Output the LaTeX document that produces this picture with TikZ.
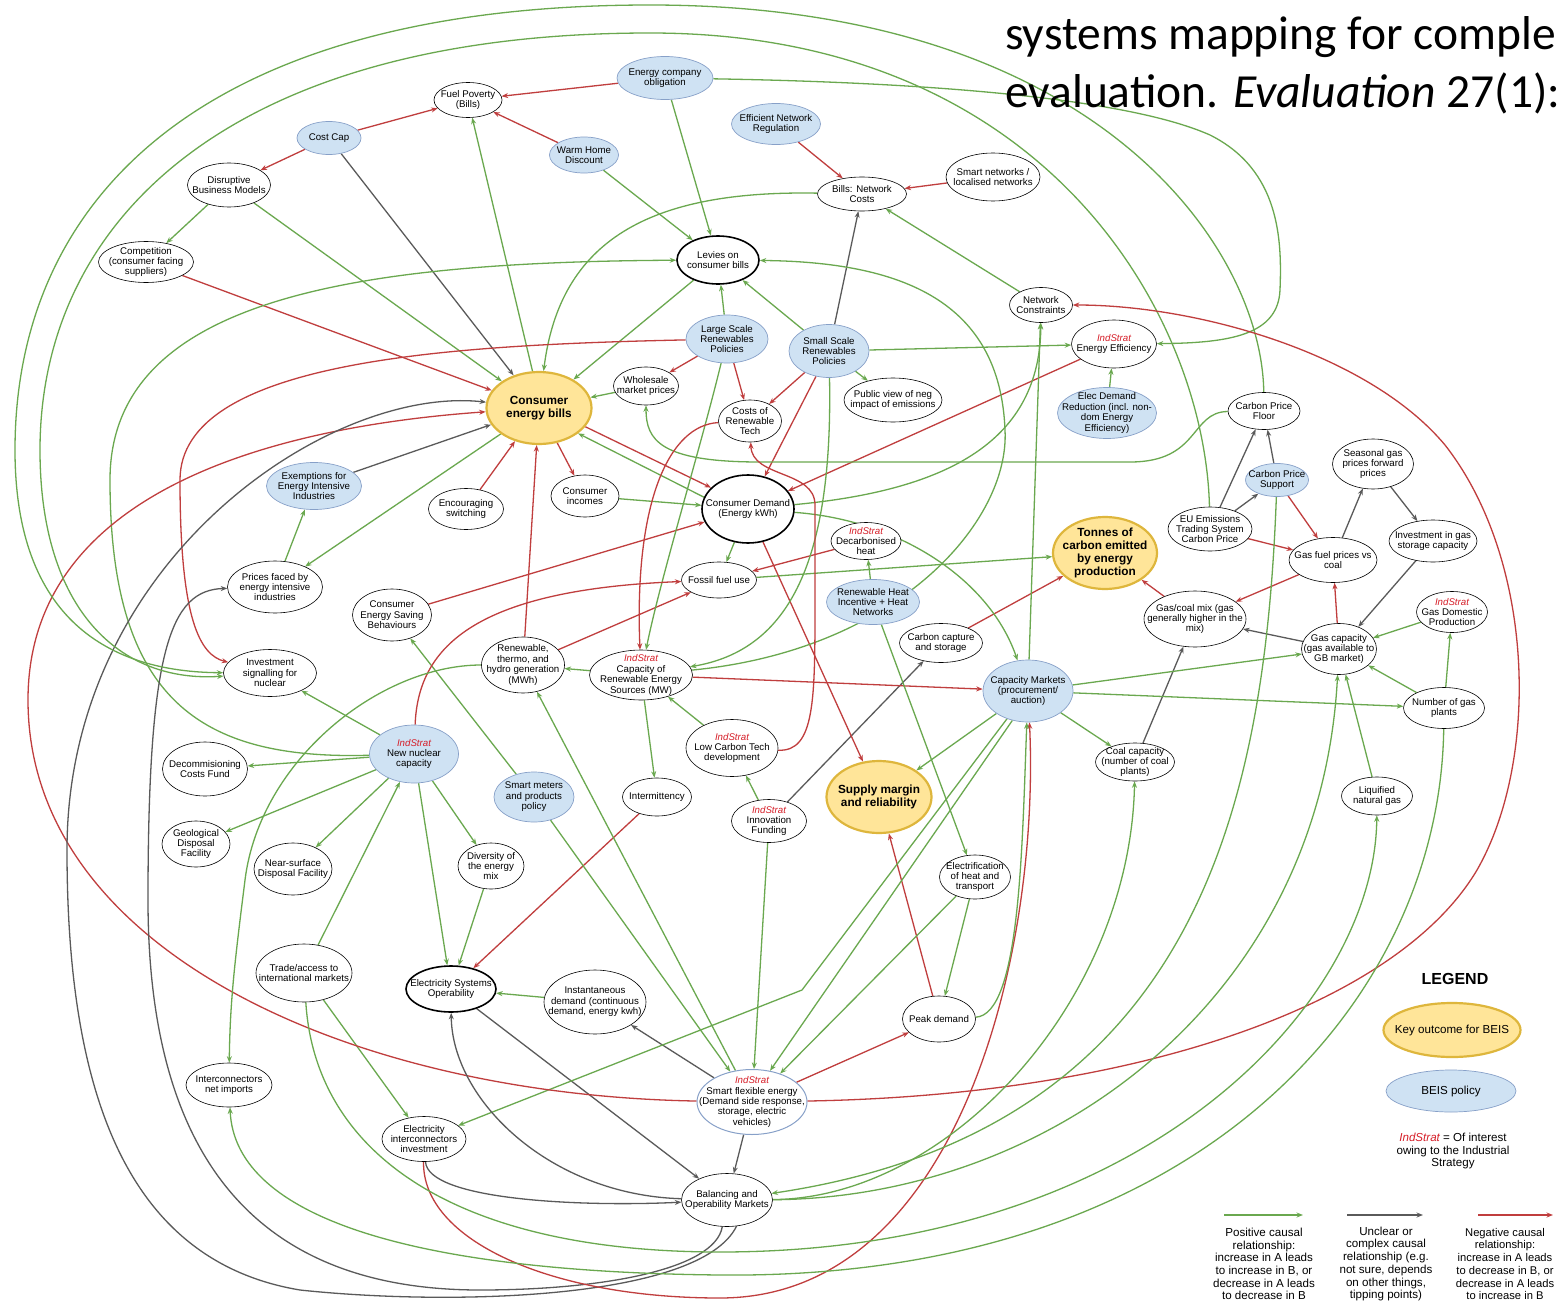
\documentclass[tikz,border=0pt]{standalone}
\usepackage{fontspec}
\setmainfont{Liberation Sans}
\newfontfamily\titlefont{Carlito}
\usetikzlibrary{shapes.geometric,arrows.meta}
\pgfdeclarelayer{bgwhite}
\pgfdeclarelayer{bg}
\pgfsetlayers{bgwhite,bg,main}
\definecolor{cgreen}{RGB}{106,168,79}
\definecolor{cgray}{RGB}{90,90,90}
\definecolor{cred}{RGB}{192,62,62}
\definecolor{cblue}{RGB}{207,226,243}
\definecolor{cblueb}{RGB}{135,160,200}
\definecolor{cyel}{RGB}{255,229,153}
\definecolor{cyelb}{RGB}{222,182,60}
\definecolor{indred}{RGB}{214,30,40}
\newcommand\nodefont{\fontsize{9.7}{10.4}\selectfont}
\newcommand\keyfont{\fontsize{11.8}{12.8}\selectfont\bfseries}
\newcommand\legfont{\fontsize{11.6}{12.7}\selectfont}
\newcommand\ind{{\color{indred}\itshape IndStrat}}
\newcommand\mknode[8]{\node[#6,minimum width=#4pt,minimum height=#5pt] (#1) at (#2,#3) {};\node[#7] (#1-t) at (#2,#3) {#8};}
\tikzset{
 shp/.style={ellipse,inner sep=0pt,fill=white},
 plainn/.style={shp,draw=black,line width=0.6pt},
 thk/.style={shp,draw=black,line width=1.6pt},
 bluen/.style={shp,draw=cblueb,fill=cblue,line width=0.7pt},
 sfest/.style={shp,draw=cblueb,fill=white,line width=1pt},
 keyn/.style={shp,draw=cyelb,fill=cyel,line width=2.2pt},
 txt/.style={align=center,inner sep=0pt,font=\nodefont},
 keytxt/.style={align=center,inner sep=0pt,font=\keyfont},
 legtxt/.style={align=center,inner sep=0pt,font=\legfont},
 edgest/.style={line width=1.3pt,-{Stealth[length=6.5pt,width=5pt]}},
 posl/.style={edgest,draw=cgreen},
 uncl/.style={edgest,draw=cgray},
 negl/.style={edgest,draw=cred},
}
\begin{document}
\begin{tikzpicture}[x=1pt,y=-1pt]
\begin{pgfonlayer}{bgwhite}
\fill[white] (0,0) rectangle (1559,1306);
\end{pgfonlayer}
\useasboundingbox (0,0) rectangle (1559,1306);
% title
\node[anchor=base west,inner sep=0pt,font=\titlefont\fontsize{47.5}{57}\selectfont] (t1) at (1005,50) {systems mapping for comple};
\node[anchor=base west,inner sep=0pt,font=\titlefont\fontsize{47.5}{57}\selectfont] (t2) at (1005,107) {evaluation. \textit{Evaluation} 27(1):};
% nodes
\mknode{fp}{468}{100}{68}{35}{plainn}{txt}{Fuel Poverty\\(Bills)}
\mknode{eco}{665}{78}{96}{43}{bluen}{txt}{Energy company\\obligation}
\mknode{cc}{329}{138}{64}{33}{bluen}{txt}{Cost Cap}
\mknode{whd}{584}{155}{69}{36}{bluen}{txt}{Warm Home\\Discount}
\mknode{enr}{776}{124}{89}{41}{bluen}{txt}{Efficient Network\\Regulation}
\mknode{dbm}{229}{185}{83}{44}{plainn}{txt}{Disruptive\\Business Models}
\mknode{sn}{993}{177}{94}{48}{plainn}{txt}{Smart networks /\\localised networks}
\mknode{bnc}{862}{194}{89}{34}{plainn}{txt}{Bills: Network\\Costs}
\mknode{comp}{146}{262}{95}{41}{plainn}{txt}{Competition\\(consumer facing\\suppliers)}
\mknode{lev}{718}{260}{82}{48}{thk}{txt}{Levies on\\consumer bills}
\mknode{nc}{1041}{305}{63}{35}{plainn}{txt}{Network\\Constraints}
\mknode{lsrp}{727}{339}{82}{48}{bluen}{txt}{Large Scale\\Renewables\\Policies}
\mknode{ssrp}{829}{351}{80}{53}{bluen}{txt}{Small Scale\\Renewables\\Policies}
\mknode{ee}{1114}{344}{85}{48}{plainn}{txt}{\ind\\Energy Efficiency}
\mknode{ceb}{539}{408}{105}{72}{keyn}{keytxt}{Consumer\\energy bills}
\mknode{wmp}{646}{386}{65}{38}{plainn}{txt}{Wholesale\\market prices}
\mknode{crt}{750}{421}{63}{42}{plainn}{txt}{Costs of\\Renewable\\Tech}
\mknode{pv}{893}{400}{98}{44}{plainn}{txt}{Public view of neg\\impact of emissions}
\mknode{edr}{1107}{413}{99}{51}{bluen}{txt}{Elec Demand\\Reduction (incl. non-\\dom Energy\\Efficiency)}
\mknode{cpf}{1264}{411}{72}{37}{plainn}{txt}{Carbon Price\\Floor}
\mknode{exe}{314}{486}{95}{47}{bluen}{txt}{Exemptions for\\Energy Intensive\\Industries}
\mknode{es}{466}{509}{75}{41}{plainn}{txt}{Encouraging\\switching}
\mknode{ci}{585}{496}{68}{42}{plainn}{txt}{Consumer\\incomes}
\mknode{cd}{748}{509}{92}{68}{thk}{txt}{Consumer Demand\\(Energy kWh)}
\mknode{sgp}{1373}{464}{81}{50}{plainn}{txt}{Seasonal gas\\prices forward\\prices}
\mknode{cps}{1277}{480}{63}{33}{bluen}{txt}{Carbon Price\\Support}
\mknode{ets}{1210}{529}{84}{44}{plainn}{txt}{EU Emissions\\Trading System\\Carbon Price}
\mknode{tc}{1105}{553}{104}{72}{keyn}{keytxt}{Tonnes of\\carbon emitted\\by energy\\production}
\mknode{igs}{1433}{541}{88}{42}{plainn}{txt}{Investment in gas\\storage capacity}
\mknode{gfp}{1333}{560}{88}{45}{plainn}{txt}{Gas fuel prices vs\\coal}
\mknode{dh}{866}{541}{70}{37}{plainn}{txt}{\ind\\Decarbonised\\heat}
\mknode{ffu}{719}{580}{75}{36}{plainn}{txt}{Fossil fuel use}
\mknode{pfe}{275}{587}{95}{52}{plainn}{txt}{Prices faced by\\energy intensive\\industries}
\mknode{cesb}{392}{615}{79}{52}{plainn}{txt}{Consumer\\Energy Saving\\Behaviours}
\mknode{rhi}{873}{602}{93}{45}{bluen}{txt}{Renewable Heat\\Incentive + Heat\\Networks}
\mknode{gcm}{1195}{619}{102}{56}{plainn}{txt}{Gas/coal mix (gas\\generally higher in the\\mix)}
\mknode{gdp}{1452}{612}{71}{41}{plainn}{txt}{\ind\\Gas Domestic\\Production}
\mknode{ccs}{941}{643}{83}{39}{plainn}{txt}{Carbon capture\\and storage}
\mknode{gc}{1339}{649}{75}{51}{plainn}{txt}{Gas capacity\\(gas available to\\GB market)}
\mknode{isn}{270}{673}{93}{47}{plainn}{txt}{Investment\\signalling for\\nuclear}
\mknode{rth}{523}{665}{83}{56}{plainn}{txt}{Renewable,\\thermo, and\\hydro generation\\(MWh)}
\mknode{cres}{641}{675}{103}{50}{plainn}{txt}{\ind\\Capacity of\\Renewable Energy\\Sources (MW)}
\mknode{cm}{1028}{691}{90}{62}{bluen}{txt}{Capacity Markets\\(procurement/\\auction)}
\mknode{ngp}{1444}{708}{81}{41}{plainn}{txt}{Number of gas\\plants}
\mknode{nn}{414}{754}{89}{58}{bluen}{txt}{\ind\\New nuclear\\capacity}
\mknode{lct}{732}{748}{92}{57}{plainn}{txt}{\ind\\Low Carbon Tech\\development}
\mknode{coal}{1135}{762}{79}{38}{plainn}{txt}{Coal capacity\\(number of coal\\plants)}
\mknode{dcf}{205}{769}{85}{54}{plainn}{txt}{Decommisioning\\Costs Fund}
\mknode{smp}{534}{797}{80}{50}{bluen}{txt}{Smart meters\\and products\\policy}
\mknode{int}{657}{797}{69}{38}{plainn}{txt}{Intermittency}
\mknode{sm}{879}{797}{105}{72}{keyn}{keytxt}{Supply margin\\and reliability}
\mknode{lng}{1377}{796}{71}{38}{plainn}{txt}{Liquified\\natural gas}
\mknode{inf}{769}{821}{75}{43}{plainn}{txt}{\ind\\Innovation\\Funding}
\mknode{gdf}{196}{844}{68}{46}{plainn}{txt}{Geological\\Disposal\\Facility}
\mknode{nsd}{293}{869}{78}{52}{plainn}{txt}{Near-surface\\Disposal Facility}
\mknode{div}{491}{866}{66}{46}{plainn}{txt}{Diversity of\\the energy\\mix}
\mknode{eht}{975}{877}{71}{44}{plainn}{txt}{Electrification\\of heat and\\transport}
\mknode{tam}{304}{973}{96}{58}{plainn}{txt}{Trade/access to\\international markets}
\mknode{eso}{451}{989}{90}{46}{thk}{txt}{Electricity Systems\\Operability}
\mknode{idm}{595}{1002}{102}{64}{plainn}{txt}{Instantaneous\\demand (continuous\\demand, energy kwh)}
\mknode{pd}{939}{1019}{73}{46}{plainn}{txt}{Peak demand}
\mknode{ini}{229}{1085}{86}{44}{plainn}{txt}{Interconnectors\\net imports}
\mknode{sfe}{752}{1102}{110}{65}{sfest}{txt}{\ind\\Smart flexible energy\\(Demand side response,\\storage, electric\\vehicles)}
\mknode{eii}{424}{1139}{84}{45}{plainn}{txt}{Electricity\\interconnectors\\investment}
\mknode{bom}{727}{1200}{91}{53}{plainn}{txt}{Balancing and\\Operability Markets}
% legend
\node[font=\fontsize{16}{18}\selectfont\bfseries] (lg) at (1455,979) {LEGEND};
\mknode{lk}{1452}{1030}{137}{54}{keyn}{legtxt}{Key outcome for BEIS}
\mknode{lb}{1451}{1091}{130}{42}{bluen}{legtxt}{BEIS policy}
\node[legtxt] (li) at (1453,1151) {\ind{} = Of interest\\owing to the Industrial\\Strategy};
\coordinate (lga) at (1224,1215); \coordinate (lgb) at (1303,1215);
\coordinate (lua) at (1347,1215); \coordinate (lub) at (1423,1215);
\coordinate (lna) at (1478,1215); \coordinate (lnb) at (1553,1215);
\draw[posl] (lga) -- (lgb);
\draw[uncl] (lua) -- (lub);
\draw[negl] (lna) -- (lnb);
\node[legtxt] (lgt) at (1264,1264) {Positive causal\\relationship:\\increase in A leads\\to increase in B, or\\decrease in A leads\\to decrease in B};
\node[legtxt] (lut) at (1386,1264) {Unclear or\\complex causal\\relationship (e.g.\\not sure, depends\\on other things,\\tipping points)};
\node[align=center,inner sep=0pt,font=\fontsize{11.2}{12.7}\selectfont] (lnt) at (1505,1264) {Negative causal\\relationship:\\increase in A leads\\to decrease in B, or\\decrease in A leads\\to increase in B};
% edges
\begin{pgfonlayer}{bg}
\draw[negl] (eco) -- (fp);
\draw[negl] (whd) -- (fp);
\draw[negl] (cc) -- (fp);
\draw[negl] (cc) -- (dbm);
\draw[uncl] (cc) -- (ceb);
\draw[posl] (dbm) -- (comp);
\draw[posl] (dbm) -- (ceb);
\draw[negl] (comp) -- (ceb);
\draw[posl] (ceb.100) -- (fp);
\draw[posl] (eco) -- (lev);
\draw[posl] (whd) -- (lev);
\draw[negl] (enr) -- (bnc);
\draw[negl] (sn) -- (bnc);
\draw[uncl] (ssrp) -- (bnc);
\draw[posl] (nc) -- (bnc);
\draw[posl] (lev) -- (ceb);
\draw[posl] (lsrp) -- (lev);
\draw[posl] (ssrp) -- (lev);
\draw[negl] (lsrp) -- (wmp);
\draw[negl] (lsrp) -- (crt);
\draw[negl] (ssrp) -- (crt);
\draw[negl] (ssrp) -- (cd);
\draw[posl] (ssrp) -- (pv);
\draw[posl] (ssrp) -- (ee);
\draw[posl] (wmp) -- (ceb);
\draw[negl] (ceb) -- (ci);
\draw[negl] (es) -- (ceb);
\draw[negl] (rth) -- (ceb);
\draw[posl] (ceb) -- (pfe);
\draw[posl] (pfe) -- (exe);
\draw[uncl] (exe) -- (ceb);
\draw[negl] (ceb.-22) -- (cd.150);
\draw[posl] (cd.165) -- (ceb.-33);
\draw[posl] (ci) -- (cd);
\draw[negl] (cesb) -- (cd);
\draw[posl] (smp) -- (cesb);
\draw[posl] (cd) -- (ffu);
\draw[negl] (dh) -- (ffu);
\draw[posl] (rhi) -- (dh);
\draw[posl] (ffu) -- (tc);
\draw[negl] (rth) -- (ffu);
\draw[posl] (cres) -- (rth);
\draw[posl] (lct) -- (cres);
\draw[posl] (inf) -- (lct);
\draw[uncl] (inf) -- (ccs);
\draw[posl] (inf) -- (sfe);
\draw[posl] (cres) -- (int);
\draw[negl] (int) -- (eso);
\draw[negl] (cres) -- (cm);
\draw[posl] (edr) -- (ee);
\draw[negl] (ee) -- (cd);
\draw[negl] (cd) -- (sm);
\draw[posl] (cm) -- (sm);
\draw[negl] (pd) -- (sm);
\draw[posl] (eht) -- (pd);
\draw[posl] (eht) -- (sfe);
\draw[posl] (rhi) -- (eht);
\draw[negl] (sfe) -- (pd);
\draw[uncl] (sfe) -- (idm);
\draw[uncl] (sfe) -- (bom);
\draw[uncl] (eso) -- (bom);
\draw[posl] (idm) -- (eso);
\draw[posl] (nn) -- (isn);
\draw[posl] (nn) -- (dcf);
\draw[posl] (nn) -- (gdf);
\draw[posl] (nn) -- (nsd);
\draw[posl] (tam) -- (nn);
\draw[posl] (nn) -- (div);
\draw[posl] (nn) -- (eso);
\draw[posl] (div) -- (eso);
\draw[posl] (tam) -- (eii);
\draw[posl] (smp) -- (sfe);
\draw[posl] (sfe) -- (rth);
\draw[negl] (ccs) -- (tc);
\draw[uncl] (ets) -- (cpf);
\draw[uncl] (ets) -- (cps);
\draw[uncl] (cps) -- (cpf);
\draw[negl] (ets) -- (gfp);
\draw[negl] (cps) -- (gfp);
\draw[uncl] (gfp) -- (sgp);
\draw[uncl] (sgp) -- (igs);
\draw[uncl] (igs) -- (gc);
\draw[negl] (gc) -- (gfp);
\draw[negl] (gfp) -- (gcm);
\draw[uncl] (gc) -- (gcm);
\draw[negl] (gcm) -- (tc);
\draw[uncl] (coal) -- (gcm);
\draw[posl] (gdp) -- (gc);
\draw[posl] (ngp) -- (gdp);
\draw[posl] (ngp) -- (gc);
\draw[posl] (cm) -- (gc);
\draw[posl] (cm) -- (ngp);
\draw[posl] (cm) -- (coal);
\draw[posl] (lng) -- (gc);
\draw[posl] (lsrp) .. controls (700,450) and (660,580) .. (cres);
\draw[posl] (cm) -- (nc);
\draw[posl] (cm) -- (802,990) -- (eii);
\draw[posl] (cm.-118) -- (sfe.60);
% curves
\draw[posl] (bnc) .. controls (650,190) and (560,240) .. (ceb);
\draw[posl] (ssrp) .. controls (833,560) and (790,650) .. (cres);
\draw[posl] (cres) .. controls (900,650) and (1010,520) .. (1005,430) .. controls (1000,300) and (900,262) .. (lev);
\draw[posl] (cd) .. controls (950,490) and (1040,440) .. (nc);
\draw[posl] (cd) .. controls (900,520) and (990,580) .. (cm);
\draw[posl] (cpf) .. controls (1190,412) and (1200,462) .. (1130,462) -- (760,462) .. controls (660,462) and (646,440) .. (wmp);
\draw[negl] (crt) .. controls (670,425) and (634,500) .. (cres);
\draw[negl] (lct) .. controls (815,752) and (815,700) .. (815,600) -- (815,505) .. controls (815,470) and (752,478) .. (crt);
\draw[negl] (nn) .. controls (418,650) and (470,590) .. (ffu);
\draw[negl] (lsrp) .. controls (450,345) and (180,360) .. (180,480) .. controls (180,620) and (200,655) .. (isn);
\draw[posl] (nn) .. controls (200,760) and (110,700) .. (110,480) .. controls (110,300) and (350,262) .. (lev);
\draw[negl] (sfe) .. controls (350,1095) and (28,950) .. (28,700) .. controls (28,480) and (300,425) .. (ceb);
\draw[uncl] (bom.-70) .. controls (700,1300) and (450,1306) .. (300,1290) .. controls (120,1260) and (67,1080) .. (67,850) .. controls (67,560) and (330,385) .. (ceb);
\draw[uncl] (bom.-100) .. controls (715,1270) and (600,1290) .. (480,1290) .. controls (250,1290) and (148,1150) .. (148,900) .. controls (148,650) and (170,590) .. (pfe);
\draw[uncl] (bom) .. controls (550,1195) and (452,1100) .. (eso);
\draw[uncl] (eii) .. controls (428,1200) and (580,1207) .. (bom);
\draw[negl] (eii) .. controls (422,1240) and (550,1298) .. (720,1298) .. controls (960,1298) and (1040,950) .. (cm);
\draw[posl] (pd) .. controls (1020,1015) and (1022,850) .. (cm);
\draw[posl] (cpf) .. controls (1262,250) and (1100,5) .. (650,5) .. controls (200,5) and (15,200) .. (15,450) .. controls (15,620) and (110,672) .. (isn);
\draw[posl] (ets) .. controls (1205,320) and (1050,33) .. (650,33) .. controls (230,33) and (40,220) .. (40,450) .. controls (40,610) and (120,683) .. (isn);
\draw[posl] (eco) .. controls (900,82) and (1120,95) .. (1210,135) .. controls (1280,170) and (1282,240) .. (1280,290) .. controls (1278,335) and (1230,343) .. (ee);
\draw[negl] (sfe) .. controls (1150,1095) and (1400,1000) .. (1477,870) .. controls (1540,760) and (1535,560) .. (1445,445) .. controls (1370,355) and (1200,305) .. (nc);
\draw[posl] (rth) .. controls (380,665) and (260,760) .. (245,880) .. controls (235,960) and (230,1000) .. (ini);
\draw[posl] (bom) .. controls (950,1198) and (1130,1000) .. (coal);
\draw[posl] (cps) .. controls (1265,800) and (1200,1130) .. (bom);
\draw[posl] (bom) .. controls (1050,1198) and (1320,1000) .. (gc);
\draw[posl] (tam) .. controls (315,1150) and (450,1252) .. (720,1252) .. controls (1150,1252) and (1375,1000) .. (lng);
\draw[posl] (ngp) .. controls (1440,1000) and (1200,1280) .. (720,1275) .. controls (420,1272) and (235,1220) .. (ini);
\end{pgfonlayer}
\end{tikzpicture}
\end{document}
